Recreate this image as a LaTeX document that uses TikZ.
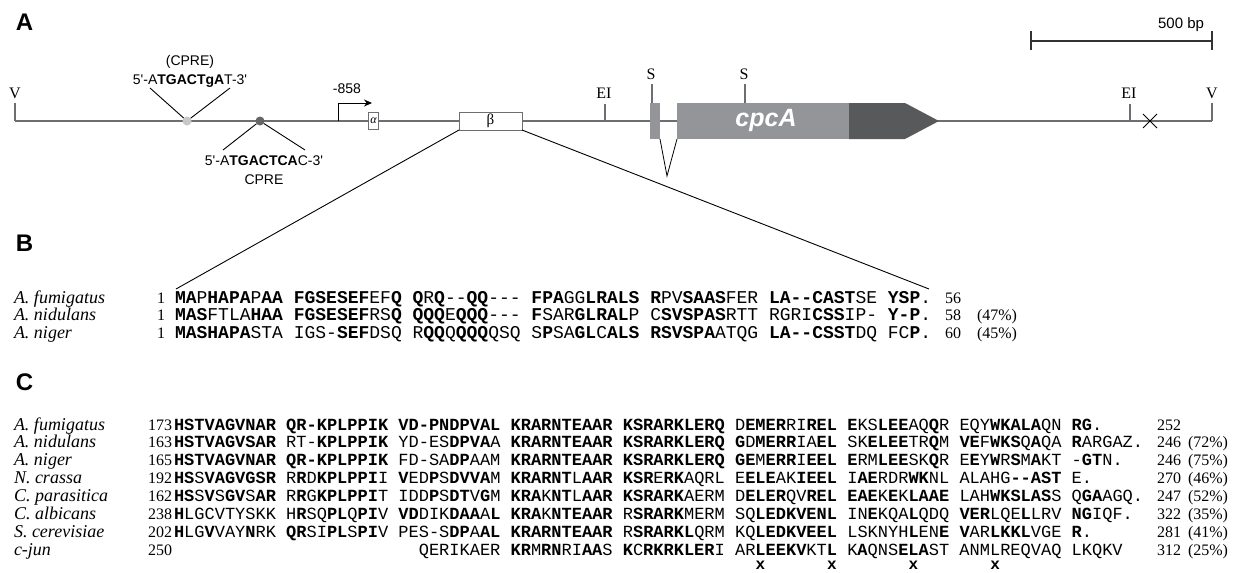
\documentclass[tikz,border=0pt]{standalone}
\usepackage{fontspec}
\setmainfont{Liberation Serif}
\setmonofont{Liberation Mono}
\newfontfamily\annfont{Liberation Sans}
\usetikzlibrary{arrows.meta}
\definecolor{exongray}{HTML}{939598}
\definecolor{exondark}{HTML}{58595B}
\definecolor{linegray}{HTML}{6D6E71}
\definecolor{dotlight}{HTML}{C8C8C8}
\definecolor{dotdark}{HTML}{666666}
\newcommand\bd[1]{\textbf{#1}}
\begin{document}
\begin{tikzpicture}[x=1pt,y=-1pt,
 every node/.style={inner sep=0pt, outer sep=0pt},
 panel/.style={font=\annfont\bfseries\fontsize{24}{24}\selectfont, anchor=center},
 site/.style={font=\fontsize{16}{16}\selectfont, anchor=base},
 ann/.style={font=\annfont\fontsize{14}{14}\selectfont, anchor=center},
 species/.style={font=\itshape\fontsize{18}{18}\selectfont, anchor=base west},
 num/.style={font=\fontsize{16}{16}\selectfont, anchor=base east},
 endnum/.style={font=\fontsize{16}{16}\selectfont, anchor=base west},
 seqb/.style={font=\ttfamily\fontsize{18}{18}\selectfont, anchor=base west},
 seqc/.style={font=\ttfamily\fontsize{17}{17}\selectfont, anchor=base west},
 xmark/.style={font=\ttfamily\bfseries\fontsize{16}{16}\selectfont, anchor=center},
 gl/.style={draw=linegray, line width=1.3pt},
 thinline/.style={draw=black, line width=0.9pt},
]
\useasboundingbox[fill=white] (0,0) rectangle (1235,573);
% panel labels
\node[panel] (labA) at (24.5,22) {A};
\node[panel] (labB) at (24.5,243) {B};
\node[panel] (labC) at (24.5,382) {C};
% main line
\coordinate (L0) at (15,121);
\coordinate (R0) at (1212,121);
\draw[gl] (L0) -- (R0);
% site ticks
\draw[gl] (15,103) -- (15,121);
\node[site] (vL) at (15,98.5) {V};
\draw[gl] (605,104) -- (605,121);
\node[site] (ei1) at (604,98.5) {EI};
\draw[gl] (1130,104) -- (1130,121);
\node[site] (ei2) at (1129,98.5) {EI};
\draw[gl] (1212,103) -- (1212,121);
\node[site] (vR) at (1212,98.5) {V};
\draw[gl] (652,84) -- (652,103);
\node[site] (s1) at (651,79) {S};
\draw[gl] (745,84) -- (745,103);
\node[site] (s2) at (744,79) {S};
% cross
\draw[thinline] (1143,114) -- (1157,128) (1143,128) -- (1157,114);
% scale bar
\draw[draw=black!80, line width=1.2pt] (1031,41) -- (1212,41) (1031,31) -- (1031,50) (1212,31) -- (1212,50);
\node[ann, anchor=east, font=\annfont\fontsize{15}{15}\selectfont] (sb) at (1204,25) {500 bp};
% CPRE sites
\node[circle, fill=dotlight, minimum size=9pt] (cpre1) at (187,121) {};
\coordinate (c1l) at (150,88);
\coordinate (c1r) at (230,88);
\draw[thinline] (cpre1) -- (c1l);
\draw[thinline] (cpre1) -- (c1r);
\node[ann] (cpre1a) at (190,81) {5'-A\textbf{TGACTgA}T-3'};
\node[ann] (cpre1b) at (190,62) {(CPRE)};
\node[circle, fill=dotdark, minimum size=9pt] (cpre2) at (260,121) {};
\coordinate (c2l) at (223,150);
\coordinate (c2r) at (305,150);
\draw[thinline] (cpre2) -- (c2l);
\draw[thinline] (cpre2) -- (c2r);
\node[ann] (cpre2a) at (264,161) {5'-A\textbf{TGACTCA}C-3'};
\node[ann] (cpre2b) at (264,180) {CPRE};
% transcription start
\coordinate (tss) at (338,121);
\coordinate (tssup) at (338,103);
\coordinate (tsstip) at (372,103);
\draw[black, line width=0.9pt, -{Stealth[length=8pt,width=7pt]}] (tss) -- (tssup) -- (tsstip);
\node[ann] (m858) at (347,89) {-858};
% alpha and beta boxes
\node[draw=linegray, fill=white, line width=1pt, minimum width=10pt, minimum height=17pt, font=\itshape\fontsize{12}{12}\selectfont] (alpha) at (373.5,120.5) {α};
\node[draw=linegray, fill=white, line width=1pt, minimum width=63pt, minimum height=18pt, font=\fontsize{15}{15}\selectfont] (beta) at (490.5,121) {β};
% gene
\fill[exongray] (650,103) rectangle (660,139);
\draw[black, line width=0.8pt] (660,139) -- (667,176) -- (677,139);
\fill[exongray] (677,103) rectangle (849,139);
\fill[exondark] (849,103) -- (905,103) -- (939,121) -- (905,139) -- (849,139) -- cycle;
\node[font=\annfont\bfseries\itshape\fontsize{25}{25}\selectfont, text=white] (cpca) at (766,120) {cpcA};
% zoom connectors
\coordinate (bl) at (176,289);
\coordinate (br) at (929,289);
\draw[thinline] (beta.south west) -- (bl);
\draw[thinline] (beta.south east) -- (br);
% section B
\node[species] (bsp1) at (14,303) {A. fumigatus};
\node[species] (bsp2) at (14,320.5) {A. nidulans};
\node[species] (bsp3) at (14,338) {A. niger};
\node[num] (bn1) at (165,303) {1};
\node[num] (bn2) at (165,320.5) {1};
\node[num] (bn3) at (165,338) {1};
\node[seqb] (bs1) at (175,303) {\bd{MA}P\bd{HAPA}P\bd{AA} \bd{FGSESEF}EF\bd{Q} \bd{Q}R\bd{Q}--\bd{QQ}--- \bd{FPA}GG\bd{LRALS} \bd{R}PV\bd{SAAS}FER \bd{LA--CAST}SE \bd{YSP}.};
\node[seqb] (bs2) at (175,320.5) {\bd{MAS}FTLA\bd{HAA} \bd{FGSESEF}RS\bd{Q} \bd{QQQ}E\bd{QQQ}--- \bd{F}SAR\bd{GLRAL}P C\bd{SVSPAS}RTT RGRI\bd{CSS}IP- \bd{Y-P}.};
\node[seqb] (bs3) at (175,338) {\bd{MASHAPA}STA IGS-\bd{SEF}DSQ R\bd{QQ}Q\bd{QQQ}QSQ S\bd{P}SA\bd{GL}C\bd{ALS} \bd{RSVSPA}ATQG \bd{LA--CSST}DQ FC\bd{P}.};
\node[endnum] (be1) at (945,303) {56};
\node[endnum] (be2) at (945,320.5) {58};
\node[endnum] (be3) at (945,338) {60};
\node[endnum] (bp2) at (977,320.5) {(47\%)};
\node[endnum] (bp3) at (977,338) {(45\%)};
% section C
\node[species] (csp1) at (14,430) {A. fumigatus};
\node[species] (csp2) at (14,447.9) {A. nidulans};
\node[species] (csp3) at (14,465.8) {A. niger};
\node[species] (csp4) at (14,483.7) {N. crassa};
\node[species] (csp5) at (14,501.6) {C. parasitica};
\node[species] (csp6) at (14,519.5) {C. albicans};
\node[species] (csp7) at (14,537.4) {S. cerevisiae};
\node[species] (csp8) at (14,555.3) {c-jun};
\node[num] (cn1) at (172,430) {173};
\node[num] (cn2) at (172,447.9) {163};
\node[num] (cn3) at (172,465.8) {165};
\node[num] (cn4) at (172,483.7) {192};
\node[num] (cn5) at (172,501.6) {162};
\node[num] (cn6) at (172,519.5) {238};
\node[num] (cn7) at (172,537.4) {202};
\node[num] (cn8) at (172,555.3) {250};
\node[seqc] (cs1) at (174,430) {\bd{HSTVAGVNAR} \bd{QR-KPLPPIK} \bd{VD-PNDPVAL} \bd{KRARNTEAAR} \bd{KSRARKLERQ} D\bd{EMER}RI\bd{REL} \bd{E}KS\bd{LEE}AQ\bd{Q}R EQY\bd{WKALA}QN \bd{RG}.};
\node[seqc] (cs2) at (174,447.9) {\bd{HSTVAGVSAR} RT-\bd{KPLPPIK} YD-ES\bd{DPVA}A \bd{KRARNTEAAR} \bd{KSRARKLERQ} \bd{G}D\bd{MERR}IA\bd{EL} SK\bd{ELEE}TR\bd{Q}M \bd{VE}F\bd{WKS}Q\bd{A}QA \bd{R}ARGAZ.};
\node[seqc] (cs3) at (174,465.8) {\bd{HSTVAGVNAR} \bd{QR-KPLPPIK} FD-SA\bd{DP}AAM \bd{KRARNTEAAR} \bd{KSRARKLERQ} \bd{GE}M\bd{ERR}I\bd{EEL} \bd{E}RM\bd{LEE}SK\bd{Q}R E\bd{E}Y\bd{W}R\bd{S}M\bd{A}KT -\bd{GT}N.};
\node[seqc] (cs4) at (174,483.7) {\bd{HS}S\bd{VAGVGSR} R\bd{R}D\bd{KPLPPI}I \bd{V}ED\bd{P}S\bd{DVVA}M \bd{KRARNT}L\bd{AAR} \bd{KSR}E\bd{RK}AQRL E\bd{ELE}AK\bd{IEEL} I\bd{AE}RDR\bd{WK}NL ALAHG\bd{--AST} E.};
\node[seqc] (cs5) at (174,501.6) {\bd{HS}S\bd{V}S\bd{GV}S\bd{AR} R\bd{R}G\bd{KPLPPI}T IDD\bd{P}S\bd{DT}V\bd{G}M \bd{KRA}K\bd{NT}L\bd{AAR} \bd{KSRARK}AERM D\bd{ELER}QV\bd{REL} \bd{EAE}K\bd{E}K\bd{LAAE} LAH\bd{WKSLAS}S Q\bd{GA}AGQ.};
\node[seqc] (cs6) at (174,519.5) {\bd{H}LGCVTYSKK H\bd{R}SQ\bd{PL}Q\bd{PI}V \bd{VD}DIK\bd{DAA}A\bd{L} \bd{KRA}K\bd{NTEAAR} R\bd{SRARK}MERM SQ\bd{LEDKVENL} IN\bd{E}KQA\bd{L}QDQ \bd{VER}LQE\bd{L}LRV \bd{NG}IQF.};
\node[seqc] (cs7) at (174,537.4) {\bd{H}LG\bd{V}VAY\bd{N}RK \bd{QR}SI\bd{PL}S\bd{PI}V PES-S\bd{DP}A\bd{AL} \bd{KRARNTEAAR} R\bd{SRARKL}QRM KQ\bd{LEDKVEEL} LSKNYH\bd{L}EN\bd{E} \bd{V}AR\bd{LKKL}VGE \bd{R}.};
\node[seqc] (cs8) at (418.8,555.3) {QERIKAER \bd{KR}M\bd{RN}RI\bd{AA}S \bd{K}C\bd{RKRKLER}I AR\bd{LEEKV}KT\bd{L} K\bd{A}QNS\bd{ELA}ST ANMLREQVAQ LKQKV};
\node[endnum] (ce1) at (1157,430) {252};
\node[endnum] (ce2) at (1157,447.9) {246};
\node[endnum] (ce3) at (1157,465.8) {246};
\node[endnum] (ce4) at (1157,483.7) {270};
\node[endnum] (ce5) at (1157,501.6) {247};
\node[endnum] (ce6) at (1157,519.5) {322};
\node[endnum] (ce7) at (1157,537.4) {281};
\node[endnum] (ce8) at (1157,555.3) {312};
\node[endnum] (cp2) at (1188,447.9) {(72\%)};
\node[endnum] (cp3) at (1188,465.8) {(75\%)};
\node[endnum] (cp4) at (1188,483.7) {(46\%)};
\node[endnum] (cp5) at (1188,501.6) {(52\%)};
\node[endnum] (cp6) at (1188,519.5) {(35\%)};
\node[endnum] (cp7) at (1188,537.4) {(41\%)};
\node[endnum] (cp8) at (1188,555.3) {(25\%)};
% heptad leucine marks
\node[xmark] (x1) at (760.5,565) {x};
\node[xmark] (x2) at (831.9,565) {x};
\node[xmark] (x3) at (913.5,565) {x};
\node[xmark] (x4) at (995.1,565) {x};
\end{tikzpicture}
\end{document}
